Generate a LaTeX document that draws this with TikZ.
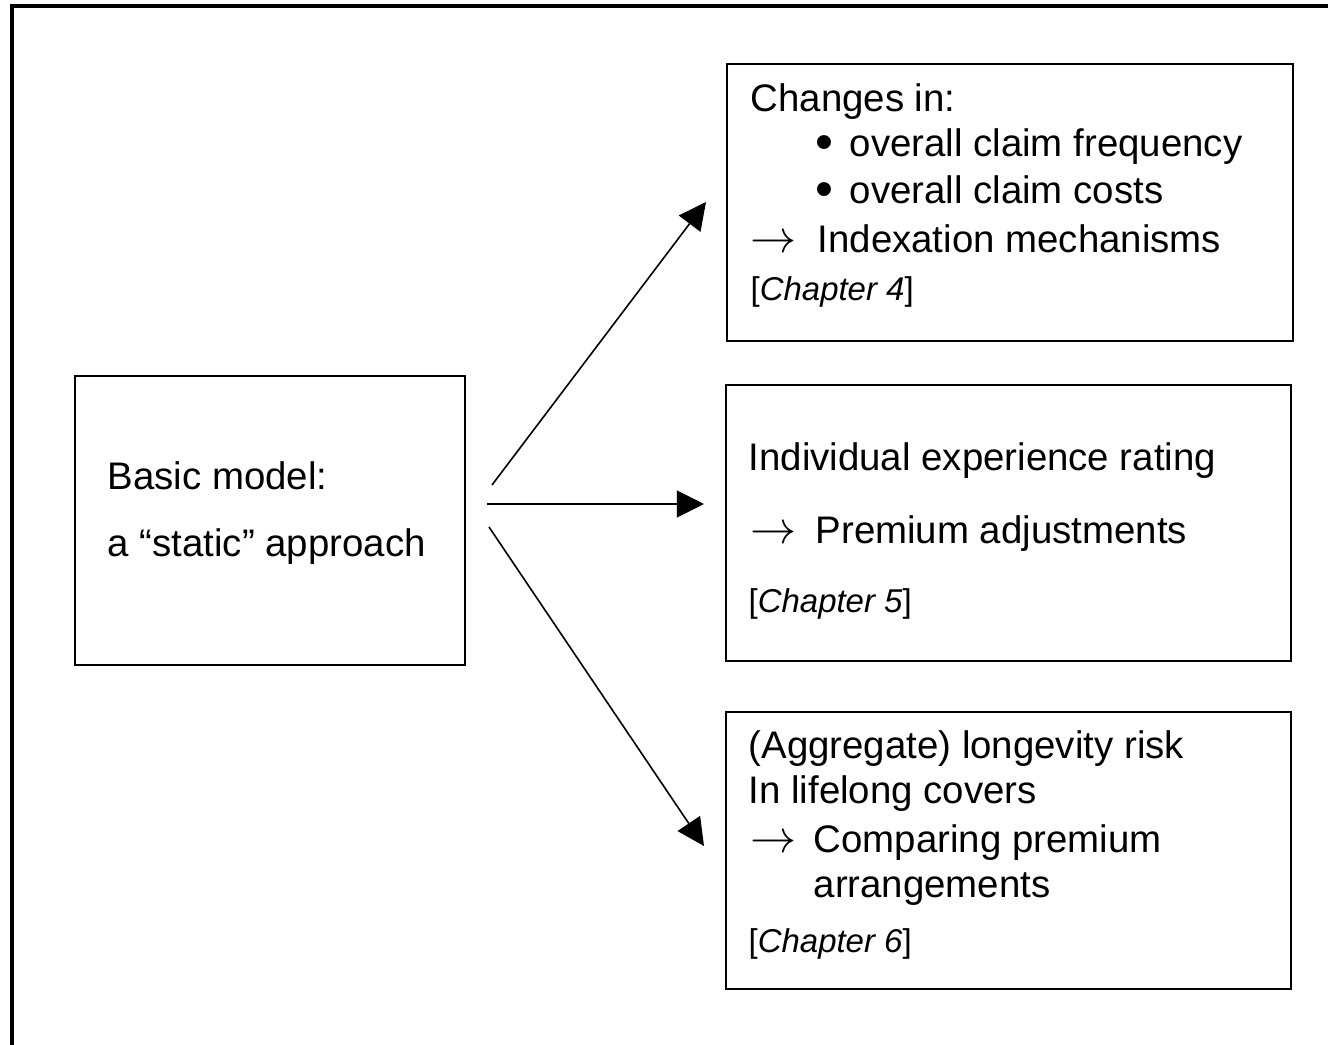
\documentclass[tikz,border=0pt]{standalone}
\usepackage{fontspec}
\setmainfont{Liberation Sans}
\usetikzlibrary{arrows.meta,fit}

\begin{document}
\begin{tikzpicture}[x=0.3125pt, y=-0.3125pt,
	box/.style={draw, line width=0.6pt, inner sep=0pt},
	txt/.style={anchor=base west, inner sep=0pt, font=\fontsize{12}{14}\selectfont},
	sym/.style={anchor=base west, inner sep=0pt, text height=6pt, text depth=0pt, font=\fontsize{14}{16}\selectfont},
	chap/.style={anchor=base west, inner sep=0pt, font=\fontsize{10.3}{12}\selectfont},
	link/.style={line width=0.5pt, -{Triangle[length=8.5pt,width=8.4pt]}}]
	\useasboundingbox (0,0) rectangle (1328,1045);
	\draw[line width=1pt] (12,1045) -- (12,6) -- (1328,6);
	% boxes
	\node[box, fit={(75,376) (465,665)}] (basic) {};
	\node[box, fit={(727,64) (1293,341)}] (index) {};
	\node[box, fit={(726,385) (1291,661)}] (rating) {};
	\node[box, fit={(726,712) (1291,989)}] (longev) {};
	% basic model
	\node[txt] (b1) at (107,489) {Basic model:};
	\node[txt] (b2) at (107,557) {a “static” approach};
	% chapter 4
	\node[txt] (c41) at (750,112) {Changes in:};
	\node[sym, font=\fontsize{16}{18}\selectfont] (d41) at (815,160) {•};
	\node[txt] (c42) at (849,157) {overall claim frequency};
	\node[sym, font=\fontsize{16}{18}\selectfont] (d42) at (815,207) {•};
	\node[txt] (c43) at (849,204) {overall claim costs};
	\node[sym] (r4) at (750,253) {$\rightarrow$};
	\node[txt] (c44) at (817,253) {Indexation mechanisms};
	\node[chap] (c45) at (750,301) {[\textit{Chapter 4}]};
	% chapter 5
	\node[txt] (c51) at (748,471) {Individual experience rating};
	\node[sym] (r5) at (750,543) {$\rightarrow$};
	\node[txt] (c52) at (815,543) {Premium adjustments};
	\node[chap] (c53) at (748,613) {[\textit{Chapter 5}]};
	% chapter 6
	\node[txt] (c61) at (748,758) {(Aggregate) longevity risk};
	\node[txt] (c62) at (748,803) {In lifelong covers};
	\node[sym] (r6) at (750,852) {$\rightarrow$};
	\node[txt] (c63) at (813,852) {Comparing premium};
	\node[txt] (c64) at (813,897) {arrangements};
	\node[chap] (c65) at (748,952) {[\textit{Chapter 6}]};
	% arrows
	\coordinate (s1) at (492,485);
	\coordinate (e1) at (706,202);
	\coordinate (s2) at (487,504);
	\coordinate (e2) at (704,504);
	\coordinate (s3) at (489,527);
	\coordinate (e3) at (704,846);
	\draw[link] (s1) -- (e1);
	\draw[link] (s2) -- (e2);
	\draw[link] (s3) -- (e3);
\end{tikzpicture}
\end{document}
